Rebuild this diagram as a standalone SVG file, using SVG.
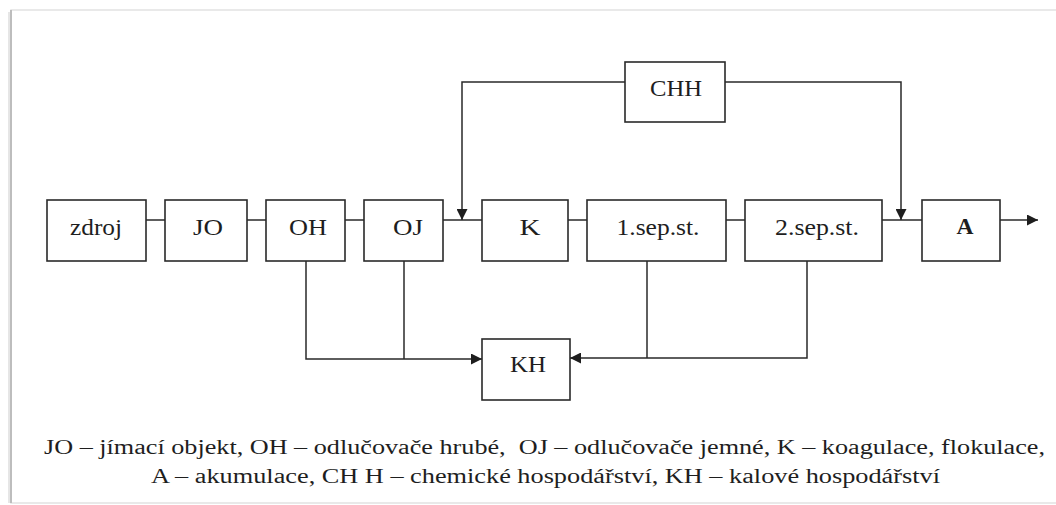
<svg xmlns="http://www.w3.org/2000/svg" width="1056" height="505" viewBox="0 0 1056 505">
<style>
.box{fill:#fff;stroke:#2a2a2a;stroke-width:1.6}
.lbl{font-size:24px;fill:#1e1e1e;text-anchor:middle}
.ln{fill:none;stroke:#2a2a2a;stroke-width:1.5}
.cap{font-size:20.5px;fill:#1e1e1e}
</style>
<defs>
<marker id="ah" viewBox="0 0 10 10" refX="10" refY="5" markerWidth="11" markerHeight="11" markerUnits="userSpaceOnUse" orient="auto">
<path d="M0,0 L10,5 L0,10 z" fill="#1e1e1e"/>
</marker>
</defs>
<rect x="0" y="0" width="1056" height="505" fill="#fff"/>
<g id="frame">
<rect x="11" y="10" width="1060" height="493" fill="#fff" stroke="#e2e2e2" stroke-width="1.5"/>
<line x1="11" y1="10" x2="11" y2="503" stroke="#bdbdbd" stroke-width="2"/>
<line x1="9" y1="12" x2="9" y2="503" stroke="#e6e6e6" stroke-width="2"/>
</g>
<g id="connectors">
<path class="ln" d="M146,220 H165 M247,220 H266 M345,220 H364 M443,220 H482 M568,220 H587 M726,220 H745 M882,220 H922"/>
<path class="ln" d="M1000,220 H1038" marker-end="url(#ah)"/>
<path class="ln" d="M625,82 H462 V220" marker-end="url(#ah)"/>
<path class="ln" d="M725,82 H901 V220" marker-end="url(#ah)"/>
<path class="ln" d="M306,261 V359 H482" marker-end="url(#ah)"/>
<path class="ln" d="M404,261 V359"/>
<path class="ln" d="M807,261 V358 H570" marker-end="url(#ah)"/>
<path class="ln" d="M647,261 V358"/>
</g>
<g font-family="Liberation Serif">
<g id="zdroj"><rect class="box" x="47" y="200" width="99" height="61"/><text class="lbl" x="96" y="235" textLength="52" lengthAdjust="spacingAndGlyphs">zdroj</text></g>
<g id="JO"><rect class="box" x="165" y="200" width="82" height="61"/><text class="lbl" x="208" y="235" textLength="30" lengthAdjust="spacingAndGlyphs">JO</text></g>
<g id="OH"><rect class="box" x="266" y="200" width="79" height="61"/><text class="lbl" x="308" y="235" textLength="38" lengthAdjust="spacingAndGlyphs">OH</text></g>
<g id="OJ"><rect class="box" x="364" y="200" width="79" height="61"/><text class="lbl" x="408" y="235" textLength="30" lengthAdjust="spacingAndGlyphs">OJ</text></g>
<g id="K"><rect class="box" x="482" y="200" width="86" height="61"/><text class="lbl" x="530" y="235" textLength="21" lengthAdjust="spacingAndGlyphs">K</text></g>
<g id="sep1"><rect class="box" x="587" y="200" width="139" height="61"/><text class="lbl" x="658" y="235" textLength="83" lengthAdjust="spacingAndGlyphs">1.sep.st.</text></g>
<g id="sep2"><rect class="box" x="745" y="200" width="137" height="61"/><text class="lbl" x="817" y="235" textLength="84" lengthAdjust="spacingAndGlyphs">2.sep.st.</text></g>
<g id="A"><rect class="box" x="922" y="200" width="78" height="61"/><text class="lbl" x="965" y="234" font-weight="bold" textLength="17" lengthAdjust="spacingAndGlyphs">A</text></g>
<g id="CHH"><rect class="box" x="625" y="62" width="100" height="60"/><text class="lbl" x="676" y="96" textLength="52" lengthAdjust="spacingAndGlyphs">CHH</text></g>
<g id="KH"><rect class="box" x="482" y="339" width="88" height="61"/><text class="lbl" x="528" y="372" textLength="36" lengthAdjust="spacingAndGlyphs">KH</text></g>
<g id="caption">
<text class="cap" x="44" y="454" textLength="1001" lengthAdjust="spacingAndGlyphs" xml:space="preserve">JO – jímací objekt, OH – odlučovače hrubé,  OJ – odlučovače jemné, K – koagulace, flokulace,</text>
<text class="cap" x="151" y="483" textLength="789" lengthAdjust="spacingAndGlyphs">A – akumulace, CH H – chemické hospodářství, KH – kalové hospodářství</text>
</g>
</g>
</svg>
